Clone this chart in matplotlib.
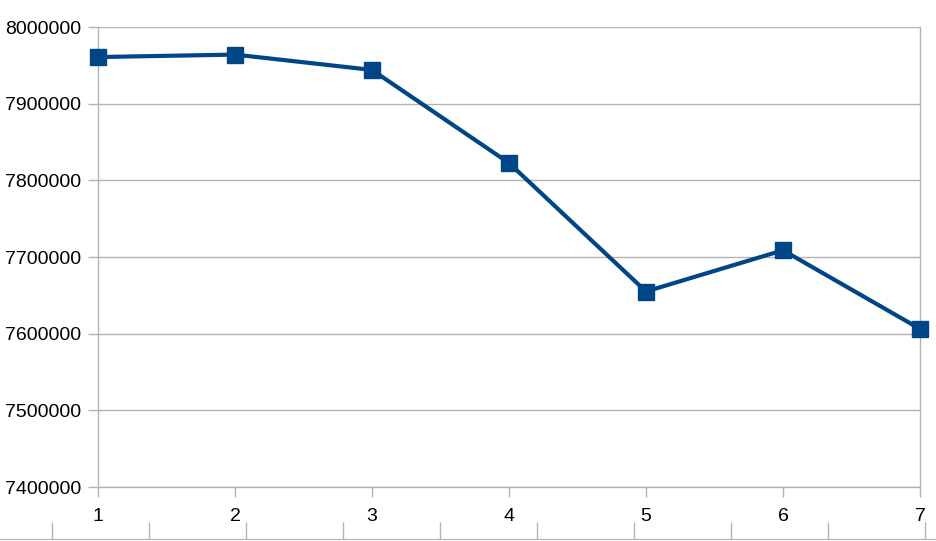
import matplotlib
matplotlib.use("Agg")
import matplotlib.pyplot as plt

x_values = [1, 2, 3, 4, 5, 6, 7]
y_values = [7960800, 7964000, 7944000, 7822600, 7655000, 7708800, 7606200]
y_ticks = [7400000, 7500000, 7600000, 7700000, 7800000, 7900000, 8000000]

plt.rcParams['font.family'] = ['Liberation Sans', 'DejaVu Sans']
W, H = 936, 541
fig = plt.figure(figsize=(W / 100, H / 100), dpi=100)
gray = '#b3b3b3'
color = '#004586'

ax = fig.add_axes([98 / W, 54 / H, 822 / W, 460 / H])
ax.plot(x_values, y_values, color=color, lw=3, marker='s', ms=11.5,
        mfc=color, mec=color, clip_on=False, zorder=5)
ax.set_xlim(1, 7)
ax.set_ylim(7400000, 8000000)
ax.set_xticks(x_values)
ax.set_yticks(y_ticks)
ax.set_yticklabels([str(v) for v in y_ticks])
ax.grid(axis='y', color=gray, lw=1)
ax.set_axisbelow(True)
for s in ax.spines.values():
    s.set_color(gray)
    s.set_linewidth(1)
ax.spines['top'].set_visible(False)
ax.tick_params(axis='both', colors=gray, labelcolor='black', labelsize=14,
               length=7, width=1, direction='out')
ax.tick_params(axis='x', pad=8)
ax.tick_params(axis='y', pad=5)

# bottom partial axis strip
ax2 = fig.add_axes([0, 2 / H, 1, 0.001])
ax2.set_xlim(0, W)
ax2.set_ylim(0, 1)
ax2.set_xticks([52 + 97 * k for k in range(10)])
ax2.set_xticklabels([])
ax2.set_yticks([])
for k in ['top', 'left', 'right']:
    ax2.spines[k].set_visible(False)
ax2.spines['bottom'].set_color(gray)
ax2.tick_params(axis='x', direction='in', length=12.5, colors=gray, width=1)
ax2.patch.set_visible(False)

fig.savefig('out.png', dpi=100)
